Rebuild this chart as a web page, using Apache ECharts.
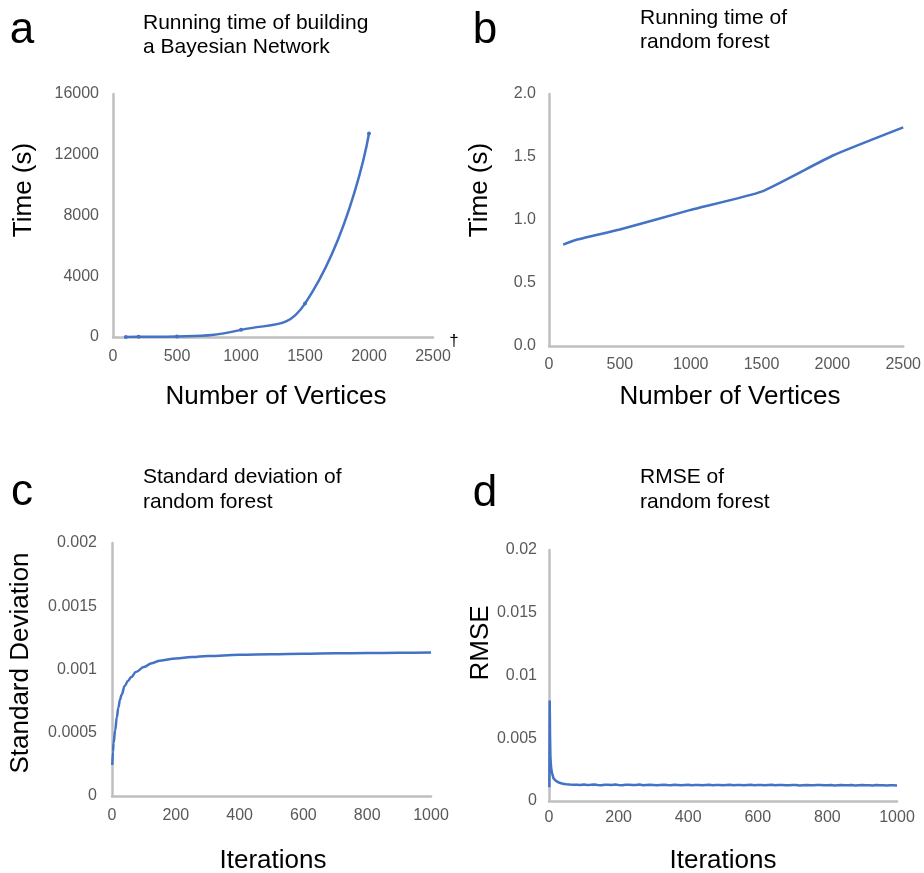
<!DOCTYPE html>
<html>
<head>
<meta charset="utf-8">
<script src="https://cdn.jsdelivr.net/npm/echarts@6/dist/echarts.min.js"></script>
<style>html,body{margin:0;padding:0;background:#fff}#c{width:924px;height:873px}</style>
</head>
<body>
<div id="c"></div>
<script>
// ---- Panel a: Running time of building a Bayesian Network
const aVertices = [100, 200, 500, 1000, 1500, 2000];
const aTime = [5, 15, 40, 470, 2200, 13400];
const aXTicks = [0, 500, 1000, 1500, 2000, 2500];
const aYTicks = [0, 4000, 8000, 12000, 16000];

// ---- Panel b: Running time of random forest
const bVertices = [100, 200, 500, 1000, 1500, 2000, 2500];
const bTime = [0.805, 0.845, 0.925, 1.08, 1.225, 1.51, 1.735];
const bXTicks = [0, 500, 1000, 1500, 2000, 2500];
const bYTicks = [0, 0.5, 1.0, 1.5, 2.0];

// ---- Panel c: Standard deviation of random forest
const cIter = [1, 3, 5, 10, 15, 20, 25, 30, 40, 50, 60, 75, 100, 125, 150, 200, 250, 300, 400, 500, 600, 700, 800, 900, 1000];
const cStd = [0.000245, 0.00035, 0.00042, 0.00052, 0.00062, 0.0007, 0.00076, 0.0008, 0.00087, 0.00091, 0.00094, 0.00098, 0.00102, 0.00105, 0.00107, 0.001087, 0.001098, 0.001106, 0.001116, 0.001121, 0.001125, 0.001128, 0.00113, 0.001132, 0.001134];
const cXTicks = [0, 200, 400, 600, 800, 1000];
const cYTicks = [0, 0.0005, 0.001, 0.0015, 0.002];

// ---- Panel d: RMSE of random forest
const dIter = [1, 2, 3, 4, 5, 6, 8, 10, 13, 16, 20, 25, 30, 40, 50, 60, 70,
  80, 90, 100, 110, 120, 130, 140, 150, 160, 170, 180, 190, 200, 210, 220, 230, 240, 250, 260, 270, 280, 290, 300,
  310, 320, 330, 340, 350, 360, 370, 380, 390, 400, 410, 420, 430, 440, 450, 460, 470, 480, 490, 500,
  510, 520, 530, 540, 550, 560, 570, 580, 590, 600, 610, 620, 630, 640, 650, 660, 670, 680, 690, 700,
  710, 720, 730, 740, 750, 760, 770, 780, 790, 800, 810, 820, 830, 840, 850, 860, 870, 880, 890, 900,
  910, 920, 930, 940, 950, 960, 970, 980, 990, 1000];
const dRmse = [0.0011, 0.0080, 0.0052, 0.0036, 0.0031, 0.0027, 0.0023, 0.0021, 0.0018, 0.0017, 0.0016, 0.00152, 0.00145, 0.00138, 0.00134, 0.00131, 0.0013,
  0.00130, 0.00128, 0.00131, 0.00127, 0.00129, 0.00132, 0.00128, 0.00126, 0.00130, 0.00129, 0.00127, 0.00131, 0.00128, 0.00126, 0.00129, 0.00130, 0.00127, 0.00128, 0.00131, 0.00126, 0.00128, 0.00129, 0.00127,
  0.00125, 0.00128, 0.00130, 0.00127, 0.00126, 0.00129, 0.00128, 0.00125, 0.00127, 0.00129, 0.00126, 0.00128, 0.00127, 0.00125, 0.00128, 0.00130, 0.00126, 0.00127, 0.00128, 0.00125,
  0.00127, 0.00129, 0.00126, 0.00128, 0.00127, 0.00125, 0.00128, 0.00129, 0.00126, 0.00127, 0.00128, 0.00125, 0.00127, 0.00129, 0.00126, 0.00127, 0.00128, 0.00125, 0.00126, 0.00128,
  0.00127, 0.00124, 0.00126, 0.00128, 0.00126, 0.00125, 0.00127, 0.00128, 0.00125, 0.00126, 0.00127, 0.00124, 0.00126, 0.00128, 0.00125, 0.00126, 0.00127, 0.00124, 0.00126, 0.00127,
  0.00125, 0.00126, 0.00124, 0.00127, 0.00125, 0.00126, 0.00124, 0.00126, 0.00125, 0.00124];
const dXTicks = [0, 200, 400, 600, 800, 1000];
const dYTicks = [0, 0.005, 0.01, 0.015, 0.02];

const FONT = '"Liberation Sans", Arial, sans-serif';
const BLUE = '#4472C4';
const AXIS = '#BFBFBF';
const LABEL = '#595959';

function zip(xs, ys) { return xs.map((x, i) => [x, ys[i]]); }
const plain = v => String(+v.toPrecision(6));

function axis(gridIndex, ticks, margin, fmt) {
  return {
    type: 'value', gridIndex,
    min: ticks[0], max: ticks[ticks.length - 1], interval: ticks[1] - ticks[0],
    axisLine: { show: true, onZero: false, lineStyle: { color: AXIS, width: 2.5 } },
    axisTick: { show: false },
    splitLine: { show: false },
    axisLabel: { color: LABEL, fontSize: 16, fontFamily: FONT, margin, showMinLabel: true, showMaxLabel: true, formatter: fmt || plain }
  };
}

function txt(x, y, text, size, opts) {
  return Object.assign({
    type: 'text', x, y,
    style: Object.assign({ text, fill: '#000', font: size + 'px ' + FONT, align: 'center', verticalAlign: 'middle' }, (opts && opts.style) || {})
  }, (opts && opts.el) || {});
}

const chart = echarts.init(document.getElementById('c'), null, { renderer: 'canvas' });

const option = {
  backgroundColor: '#fff',
  animation: false,
  grid: [
    { left: 113, top: 94, width: 320, height: 243 },
    { left: 549, top: 94, width: 356, height: 252 },
    { left: 112, top: 543, width: 319, height: 253 },
    { left: 549, top: 550, width: 348, height: 251 }
  ],
  xAxis: [
    axis(0, aXTicks, 12),
    axis(1, bXTicks, 11),
    axis(2, cXTicks, 12),
    axis(3, dXTicks, 9)
  ],
  yAxis: [
    axis(0, aYTicks, 14),
    axis(1, bYTicks, 13, v => v.toFixed(1)),
    axis(2, cYTicks, 15),
    axis(3, dYTicks, 12)
  ],
  series: [
    { type: 'line', xAxisIndex: 0, yAxisIndex: 0, data: zip(aVertices, aTime), smooth: 0.5,
      symbol: 'circle', symbolSize: 4, showSymbol: true, itemStyle: { color: BLUE },
      lineStyle: { color: BLUE, width: 2.5 } },
    { type: 'line', xAxisIndex: 1, yAxisIndex: 1, data: zip(bVertices, bTime), smooth: 0.15,
      showSymbol: false, lineStyle: { color: BLUE, width: 2.5 } },
    { type: 'line', xAxisIndex: 2, yAxisIndex: 2, data: zip(cIter, cStd), smooth: 0.4, smoothMonotone: 'x',
      showSymbol: false, lineStyle: { color: BLUE, width: 2.5 } },
    { type: 'line', xAxisIndex: 3, yAxisIndex: 3, data: zip(dIter, dRmse), smooth: false,
      showSymbol: false, lineStyle: { color: BLUE, width: 2.5 } }
  ],
  graphic: [
    // panel letters
    txt(22, 31, 'a', 44),
    txt(485, 31, 'b', 44),
    txt(22, 493, 'c', 44),
    txt(485, 494, 'd', 44),
    // titles
    txt(143, 11, 'Running time of building\na Bayesian Network', 21, { style: { align: 'left', verticalAlign: 'top', lineHeight: 24 } }),
    txt(640, 6, 'Running time of\nrandom forest', 21, { style: { align: 'left', verticalAlign: 'top', lineHeight: 24 } }),
    txt(143, 465, 'Standard deviation of\nrandom forest', 21, { style: { align: 'left', verticalAlign: 'top', lineHeight: 25 } }),
    txt(640, 465, 'RMSE of\nrandom forest', 21, { style: { align: 'left', verticalAlign: 'top', lineHeight: 25 } }),
    // axis titles
    txt(24, 190, 'Time (s)', 26, { el: { rotation: Math.PI / 2 } }),
    txt(276, 397, 'Number of Vertices', 26),
    txt(480, 190, 'Time (s)', 26, { el: { rotation: Math.PI / 2 } }),
    txt(730, 397, 'Number of Vertices', 26),
    txt(21, 663, 'Standard Deviation', 26, { el: { rotation: Math.PI / 2 } }),
    txt(273, 861, 'Iterations', 26),
    txt(481, 643, 'RMSE', 26, { el: { rotation: Math.PI / 2 } }),
    txt(723, 861, 'Iterations', 26),
    // dagger
    txt(454, 341, '\u2020', 17)
  ]
};
chart.setOption(option);
</script>
</body>
</html>
